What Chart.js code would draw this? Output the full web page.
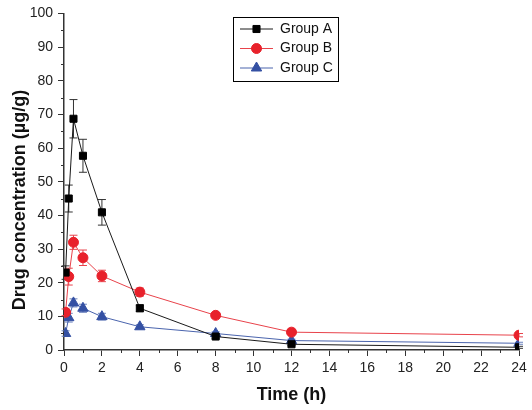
<!DOCTYPE html>
<html>
<head>
<meta charset="utf-8">
<script src="https://cdn.jsdelivr.net/npm/chart.js@4/dist/chart.umd.min.js"></script>
<style>
  html, body { margin: 0; padding: 0; background: #fff; }
  #wrap { width: 532px; height: 410px; position: relative; }
</style>
</head>
<body>
<div id="wrap"><canvas id="pkChart"></canvas></div>
<script>
// ===========================
// Data
// ===========================
const timePoints = [0.083, 0.25, 0.5, 1, 2, 4, 8, 12, 24];

const groupA = [23, 45, 68.7, 57.7, 40.9, 12.4, 4.0, 1.7, 0.8];
const groupAErr = [2, 4, 5.7, 4.9, 3.8, 1, 0.5, 0.4, 0.3];

const groupB = [11.2, 21.8, 32, 27.4, 22, 17.2, 10.3, 5.3, 4.4];
const groupBErr = [1, 2.5, 2.1, 2.3, 1.7, 1.2, 0.8, 0.6, 0.5];

const groupC = [4.9, 9.6, 14, 12.4, 9.9, 6.9, 4.9, 2.8, 2.0];
const groupCErr = [0.8, 1.3, 1.2, 1.2, 1, 0.6, 0.5, 0.4, 0.3];

const xTicks = [0, 2, 4, 6, 8, 10, 12, 14, 16, 18, 20, 22, 24];
const yTicks = [0, 10, 20, 30, 40, 50, 60, 70, 80, 90, 100];

const yTitle = 'Drug concentration (µg/g)';

const FONT = '"Liberation Sans", Arial, sans-serif';

function toPoints(values) {
    return values.map((v, i) => ({ x: timePoints[i], y: v }));
}

// ===========================
// Plugins
// ===========================

// error bars, drawn through the scales
const errorBars = {
    id: 'errorBars',
    beforeDatasetsDraw(chart) {
        const { ctx, scales: { x, y } } = chart;
        chart.data.datasets.forEach(ds => {
            ctx.save();
            ctx.strokeStyle = ds.errColor;
            ctx.lineWidth = 1;
            ds.data.forEach((p, i) => {
                const e = ds.errors[i];
                const px = x.getPixelForValue(p.x);
                const top = y.getPixelForValue(p.y + e);
                const bot = y.getPixelForValue(p.y - e);
                ctx.beginPath();
                ctx.moveTo(px, top); ctx.lineTo(px, bot);
                ctx.moveTo(px - 4, top); ctx.lineTo(px + 4, top);
                ctx.moveTo(px - 4, bot); ctx.lineTo(px + 4, bot);
                ctx.stroke();
            });
            ctx.restore();
        });
    }
};

// minor ticks between major ones
const minorTicks = {
    id: 'minorTicks',
    afterDraw(chart) {
        const { ctx, scales: { x, y }, chartArea } = chart;
        ctx.save();
        ctx.strokeStyle = '#333';
        ctx.lineWidth = 1;
        ctx.beginPath();
        for (let i = 0; i < xTicks.length - 1; i++) {
            const px = Math.round(x.getPixelForValue((xTicks[i] + xTicks[i + 1]) / 2)) + 0.5;
            ctx.moveTo(px, chartArea.bottom);
            ctx.lineTo(px, chartArea.bottom + 3);
        }
        for (let i = 0; i < yTicks.length - 1; i++) {
            const py = Math.round(y.getPixelForValue((yTicks[i] + yTicks[i + 1]) / 2)) + 0.5;
            ctx.moveTo(chartArea.left, py);
            ctx.lineTo(chartArea.left - 3, py);
        }
        ctx.stroke();
        ctx.restore();
    }
};

// y axis title, placed a bit lower than centre like the original
const yAxisTitle = {
    id: 'yAxisTitle',
    afterDraw(chart) {
        const ctx = chart.ctx;
        ctx.save();
        ctx.translate(20, 200);
        ctx.rotate(-Math.PI / 2);
        ctx.font = 'bold 18px ' + FONT;
        ctx.fillStyle = '#111';
        ctx.textAlign = 'center';
        ctx.textBaseline = 'middle';
        ctx.fillText(yTitle, 0, 0);
        ctx.restore();
    }
};

// boxed legend inside the plot
const boxLegend = {
    id: 'boxLegend',
    afterDraw(chart) {
        const ctx = chart.ctx;
        const left = 233, top = 17, w = 105, h = 64;
        ctx.save();
        ctx.fillStyle = '#fff';
        ctx.fillRect(left, top, w, h);
        ctx.strokeStyle = '#000';
        ctx.lineWidth = 1;
        ctx.strokeRect(left + 0.5, top + 0.5, w, h);
        ctx.font = '14px ' + FONT;
        ctx.textBaseline = 'middle';
        chart.data.datasets.forEach((ds, i) => {
            const cy = top + 12 + i * 19.5;
            ctx.strokeStyle = ds.borderColor;
            ctx.lineWidth = 1;
            ctx.beginPath();
            ctx.moveTo(left + 7, cy);
            ctx.lineTo(left + 40, cy);
            ctx.stroke();
            ctx.fillStyle = ds.pointBackgroundColor;
            ctx.strokeStyle = ds.pointBorderColor;
            Chart.helpers.drawPoint(ctx, {
                pointStyle: ds.pointStyle,
                radius: ds.pointRadius,
                rotation: 0,
                borderWidth: 1
            }, left + 23.5, cy);
            ctx.fillStyle = '#111';
            ctx.fillText(ds.label, left + 47, cy);
        });
        ctx.restore();
    }
};

// ===========================
// Chart
// ===========================
function makeSet(label, values, errors, color, lineColor, errColor, style, radius) {
    return {
        label: label,
        data: toPoints(values),
        errors: errors,
        errColor: errColor,
        borderColor: lineColor,
        borderWidth: 1,
        pointStyle: style,
        pointRadius: radius,
        pointBackgroundColor: color,
        pointBorderColor: color,
        pointBorderWidth: 1,
        tension: 0,
        fill: false
    };
}

const pkChart = new Chart(document.getElementById('pkChart'), {
    type: 'line',
    data: {
        datasets: [
            makeSet('Group A', groupA, groupAErr, '#000000', '#1a1a1a', '#333333', 'rect', 5),
            makeSet('Group B', groupB, groupBErr, '#e8212b', '#e8434b', '#e8434b', 'circle', 5),
            makeSet('Group C', groupC, groupCErr, '#3450a3', '#4a64ad', '#6a80bd', 'triangle', 6)
        ]
    },
    options: {
        responsive: true,
        maintainAspectRatio: false,
        animation: false,
        layout: { padding: { top: 13, right: 13, bottom: 0, left: 0 } },
        plugins: {
            legend: { display: false },
            tooltip: { enabled: false }
        },
        scales: {
            x: {
                type: 'linear',
                min: 0,
                max: 24,
                afterFit: function(scale) { scale.height = 60; },
                afterBuildTicks: function(scale) {
                    scale.ticks = xTicks.map(v => ({ value: v }));
                },
                ticks: {
                    color: '#222',
                    font: { family: FONT, size: 14 },
                    padding: 4,
                    maxRotation: 0
                },
                grid: {
                    drawOnChartArea: false,
                    tickLength: 6,
                    tickColor: '#333'
                },
                border: { color: '#333', width: 1.5 },
                title: {
                    display: true,
                    text: 'Time (h)',
                    color: '#111',
                    font: { family: FONT, size: 18, weight: 'bold' },
                    padding: { top: 3 }
                }
            },
            y: {
                min: 0,
                max: 100,
                afterFit: function(scale) { scale.width = 64; },
                afterBuildTicks: function(scale) {
                    scale.ticks = yTicks.map(v => ({ value: v }));
                },
                ticks: {
                    color: '#222',
                    font: { family: FONT, size: 14 },
                    padding: 5
                },
                grid: {
                    drawOnChartArea: false,
                    tickLength: 6,
                    tickColor: '#333'
                },
                border: { color: '#333', width: 1.5 }
            }
        }
    },
    plugins: [errorBars, minorTicks, yAxisTitle, boxLegend]
});
</script>
</body>
</html>
